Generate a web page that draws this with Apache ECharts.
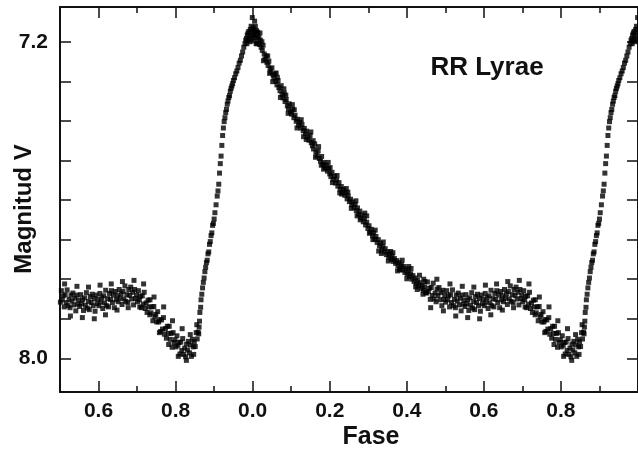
<!DOCTYPE html>
<html><head><meta charset="utf-8">
<script src="https://cdn.jsdelivr.net/npm/echarts@6/dist/echarts.min.js"></script>
<style>html,body{margin:0;padding:0;background:#fff}#c{width:638px;height:455px}</style>
</head><body><div id="c"></div>
<script>
// ---- tick positions / labels ----
const xMajorTicks = [-0.4, -0.2, 0, 0.2, 0.4, 0.6, 0.8];
const xTickLabels = ['0.6', '0.8', '0.0', '0.2', '0.4', '0.6', '0.8'];
const xMinorTicks = [-0.3, -0.1, 0.1, 0.3, 0.5, 0.7, 0.9];
const yTicks = [7.2, 7.3, 7.4, 7.5, 7.6, 7.7, 7.8, 7.9, 8.0];
const yLabelValues = [7.2, 8.0];
const yLabelTexts = ['7.2', '8.0'];

const peakObs = [[0.985,7.205],[0.989,7.196],[0.993,7.200],[0.997,7.192],[0.002,7.198],[0.004,7.170],[0.007,7.161],[0.009,7.205],[0.001,7.185],[0.013,7.176]];
const declineObs = [[0.001,7.165],[0.003,7.182],[0.005,7.148],[0.006,7.176],[0.008,7.190],[0.010,7.172],[0.012,7.186],[0.014,7.201],[0.016,7.189],[0.018,7.207],[0.020,7.196],[0.022,7.214],[0.025,7.222],[0.027,7.209],[0.030,7.231],[0.032,7.244],[0.035,7.236],[0.037,7.252],[0.040,7.260],[0.042,7.249],[0.045,7.268],[0.047,7.277],[0.050,7.266],[0.053,7.284],[0.055,7.292],[0.058,7.281],[0.060,7.300],[0.063,7.309],[0.066,7.298],[0.068,7.316],[0.071,7.324],[0.074,7.311],[0.076,7.333],[0.079,7.342],[0.082,7.330],[0.084,7.351],[0.087,7.346],[0.090,7.362],[0.093,7.370],[0.095,7.357],[0.098,7.378],[0.101,7.383],[0.104,7.371],[0.107,7.392],[0.110,7.386],[0.113,7.401],[0.116,7.396],[0.119,7.411],[0.122,7.404],[0.125,7.418],[0.128,7.409],[0.131,7.425],[0.134,7.419],[0.137,7.433],[0.140,7.426],[0.143,7.441],[0.146,7.449],[0.149,7.437],[0.152,7.455],[0.155,7.463],[0.158,7.471],[0.161,7.458],[0.164,7.479],[0.167,7.488],[0.170,7.476],[0.173,7.495],[0.176,7.502],[0.179,7.490],[0.182,7.510],[0.185,7.505],[0.188,7.519],[0.191,7.512],[0.194,7.527],[0.197,7.520],[0.200,7.534],[0.203,7.541],[0.206,7.530],[0.209,7.548],[0.212,7.540],[0.215,7.557],[0.218,7.550],[0.221,7.565],[0.224,7.556],[0.227,7.573],[0.230,7.566],[0.233,7.580],[0.236,7.573],[0.239,7.588],[0.242,7.582],[0.245,7.597],[0.248,7.590],[0.251,7.604],[0.254,7.598],[0.257,7.612],[0.260,7.605],[0.263,7.619],[0.266,7.611],[0.269,7.627],[0.272,7.620],[0.275,7.636],[0.278,7.628],[0.281,7.645],[0.284,7.638],[0.287,7.655],[0.290,7.647],[0.293,7.663],[0.296,7.656],[0.299,7.672],[0.302,7.665],[0.305,7.681],[0.308,7.674],[0.311,7.690],[0.314,7.683],[0.317,7.699],[0.320,7.692],[0.323,7.707],[0.326,7.700],[0.329,7.716],[0.332,7.709],[0.335,7.724],[0.338,7.717],[0.341,7.731],[0.344,7.723],[0.347,7.738],[0.350,7.731],[0.353,7.744],[0.356,7.737],[0.359,7.750],[0.362,7.742],[0.365,7.755],[0.368,7.748],[0.371,7.760],[0.374,7.753],[0.377,7.766],[0.380,7.758],[0.383,7.772],[0.386,7.763],[0.389,7.777],[0.392,7.768],[0.395,7.783],[0.398,7.774],[0.401,7.788],[0.404,7.780],[0.407,7.794],[0.410,7.786],[0.413,7.800],[0.416,7.791],[0.419,7.806],[0.422,7.797],[0.425,7.812],[0.428,7.803],[0.431,7.817],[0.434,7.809],[0.437,7.823],[0.440,7.815],[0.443,7.828],[0.446,7.820],[0.449,7.834],
[0.011,7.205],[0.019,7.178],[0.028,7.248],[0.039,7.236],[0.052,7.301],[0.061,7.279],[0.072,7.341],[0.081,7.319],[0.092,7.381],[0.103,7.359],[0.115,7.418],[0.126,7.397],[0.139,7.447],[0.151,7.428],[0.163,7.492],[0.171,7.465],[0.184,7.522],[0.196,7.505],[0.207,7.556],[0.219,7.538],[0.231,7.585],[0.243,7.571],[0.256,7.621],[0.268,7.602],[0.279,7.650],[0.291,7.633],[0.303,7.684],[0.318,7.676],[0.327,7.729],[0.339,7.706],[0.352,7.754],[0.364,7.733],[0.376,7.779],[0.388,7.752],[0.400,7.799],[0.411,7.773],[0.423,7.819],[0.433,7.790],[0.442,7.838],[0.447,7.806],
[0.024,7.200],[0.044,7.280],[0.064,7.290],[0.086,7.335],[0.108,7.372],[0.132,7.440],[0.157,7.450],[0.178,7.512],[0.201,7.518],[0.226,7.582],[0.247,7.580],[0.271,7.640],[0.296,7.640],[0.312,7.700],[0.334,7.735],[0.358,7.730],[0.381,7.776],[0.405,7.768],[0.427,7.826],[0.444,7.800]];
const plateauObs = [[0.451,7.835],[0.4535,7.807],[0.456,7.831],[0.4585,7.823],[0.461,7.851],[0.4635,7.821],[0.466,7.841],[0.4685,7.810],[0.471,7.850],[0.4735,7.835],[0.476,7.857],[0.4785,7.825],[0.481,7.841],[0.4835,7.821],[0.486,7.852],[0.4885,7.834],[0.491,7.867],[0.4935,7.828],[0.496,7.851],[0.4985,7.841],[0.501,7.858],[0.5035,7.829],[0.506,7.852],[0.5085,7.842],[0.511,7.870],[0.5135,7.839],[0.516,7.859],[0.5185,7.827],[0.521,7.867],[0.5235,7.851],[0.526,7.872],[0.5285,7.840],[0.531,7.855],[0.5335,7.835],[0.536,7.865],[0.5385,7.848],[0.541,7.880],[0.5435,7.840],[0.546,7.863],[0.5485,7.853],[0.551,7.869],[0.5535,7.839],[0.556,7.862],[0.5585,7.852],[0.561,7.879],[0.5635,7.847],[0.566,7.866],[0.5685,7.834],[0.571,7.873],[0.5735,7.856],[0.576,7.877],[0.5785,7.844],[0.581,7.859],[0.5835,7.838],[0.586,7.867],[0.5885,7.849],[0.591,7.881],[0.5935,7.840],[0.596,7.862],[0.5985,7.851],[0.601,7.867],[0.6035,7.836],[0.606,7.858],[0.6085,7.847],[0.611,7.874],[0.6135,7.842],[0.616,7.860],[0.6185,7.828],[0.621,7.867],[0.6235,7.849],[0.626,7.870],[0.6285,7.836],[0.631,7.851],[0.6335,7.829],[0.636,7.859],[0.6385,7.840],[0.641,7.872],[0.6435,7.831],[0.646,7.852],[0.6485,7.842],[0.651,7.857],[0.6535,7.826],[0.656,7.848],[0.6585,7.837],[0.661,7.864],[0.6635,7.831],[0.666,7.850],[0.6685,7.817],[0.671,7.856],[0.6735,7.839],[0.676,7.859],[0.6785,7.826],[0.681,7.841],[0.6835,7.820],[0.686,7.850],[0.6885,7.833],[0.691,7.865],[0.6935,7.826],[0.696,7.849],[0.6985,7.840],[0.701,7.857],[0.7035,7.829],[0.706,7.852],[0.7085,7.843],[0.711,7.872],[0.7135,7.842],[0.716,7.863],[0.7185,7.833],[0.721,7.874],[0.7235,7.860],[0.726,7.884],[0.7285,7.853],[0.731,7.870],[0.7335,7.852],[0.736,7.885],[0.7385,7.870],[0.741,7.905],[0.7435,7.869],[0.746,7.895],[0.7485,7.889],[0.751,7.908],[0.7535,7.882],[0.756,7.908],[0.7585,7.902],[0.761,7.932],[0.7635,7.903],[0.766,7.926],[0.7685,7.897],[0.771,7.939],[0.7735,7.925],[0.776,7.949],[0.7785,7.919],[0.781,7.937],[0.7835,7.919],[0.786,7.952],[0.7885,7.937],[0.791,7.972],[0.7935,7.935],[0.796,7.960],[0.7985,7.953],[0.801,7.971],[0.8035,7.943],[0.806,7.967],[0.8085,7.960],[0.811,7.989],[0.8135,7.959],[0.816,7.980],[0.8185,7.950],[0.821,7.990],[0.8235,7.974],[0.826,7.996],[0.8285,7.964],[0.831,7.979],[0.8335,7.957],[0.836,7.986],[0.8385,7.966],[0.841,7.995],[0.8435,7.952],[0.846,7.971],[0.8485,7.958],[0.851,7.970],[0.8535,7.935],[0.856,7.951],[0.8585,7.934],
[0.462,7.872],[0.478,7.800],[0.495,7.880],[0.512,7.812],[0.527,7.893],[0.544,7.818],[0.558,7.897],[0.574,7.820],[0.589,7.900],[0.604,7.815],[0.618,7.890],[0.633,7.812],[0.648,7.878],[0.662,7.806],[0.677,7.872],[0.692,7.803],[0.707,7.870],[0.717,7.812],[0.733,7.890],[0.744,7.845],[0.758,7.935],[0.769,7.870],[0.782,7.965],[0.792,7.905],[0.807,7.995],[0.817,7.925],[0.828,8.005],[0.838,7.940],[0.847,7.990],[0.855,7.915]];
const riseObs = [[0.860,7.938],[0.861,7.921],[0.862,7.906],[0.863,7.884],[0.865,7.871],[0.866,7.852],[0.868,7.838],[0.870,7.822],[0.872,7.808],[0.874,7.797],[0.876,7.781],[0.878,7.770],[0.880,7.758],[0.882,7.752],[0.884,7.736],[0.886,7.731],[0.888,7.712],[0.890,7.705],[0.892,7.690],[0.894,7.683],[0.896,7.664],[0.898,7.659],[0.900,7.648],[0.902,7.632],[0.905,7.612],[0.908,7.590],[0.910,7.577],[0.912,7.560],[0.914,7.532],[0.916,7.508],[0.918,7.489],[0.920,7.462],[0.922,7.437],[0.924,7.418],[0.926,7.402],[0.928,7.392],[0.930,7.379],[0.932,7.371],[0.934,7.358],[0.936,7.350],[0.938,7.341],[0.940,7.336],[0.942,7.325],[0.944,7.318],[0.946,7.312],[0.948,7.306],[0.950,7.298],[0.953,7.291],[0.956,7.281],[0.959,7.274],[0.962,7.265],[0.965,7.254],[0.968,7.247],[0.971,7.236],[0.974,7.226],[0.977,7.214],[0.980,7.205],[0.982,7.196],[0.984,7.192],[0.986,7.183],[0.988,7.178],[0.990,7.174],[0.992,7.186],[0.994,7.169],[0.996,7.161],[0.998,7.177],[0.999,7.139]];

// one cycle, plotted again one phase earlier for the left half (phase-folded display)
const cycle = [].concat(peakObs, declineObs, plateauObs, riseObs);
const plotted = cycle.map(d => [d[0], d[1]])
  .concat(cycle.filter(d => d[0] >= 0.5).map(d => [d[0] - 1, d[1]]));

const FONT = '"Liberation Sans", Arial, Helvetica, sans-serif';
const INK = '#111';

function xLabel(v) {
  for (let i = 0; i < xMajorTicks.length; i++) {
    if (Math.abs(xMajorTicks[i] - v) < 1e-6) return xTickLabels[i];
  }
  return '';
}
function yLabel(v) {
  for (let i = 0; i < yLabelValues.length; i++) {
    if (Math.abs(yLabelValues[i] - v) < 1e-6) return yLabelTexts[i];
  }
  return '';
}

function xAx(position, ticks, len, withLine, withLabels) {
  return {
    type: 'value', min: -0.5, max: 1.0, position: position,
    axisLine: { show: withLine, onZero: false, lineStyle: { color: INK, width: 2 } },
    axisTick: { show: true, inside: true, length: len, customValues: ticks, lineStyle: { color: INK, width: 1.5 } },
    axisLabel: withLabels ? { show: true, customValues: xMajorTicks, formatter: xLabel, margin: 9,
      fontSize: 21, fontWeight: 'bold', color: INK, fontFamily: FONT } : { show: false },
    splitLine: { show: false }
  };
}
function yAx(position, withLabels) {
  return {
    type: 'value', min: 7.1123, max: 8.085, inverse: true, position: position,
    axisLine: { show: true, onZero: false, lineStyle: { color: INK, width: 2 } },
    axisTick: { show: true, inside: true, length: 11, customValues: yTicks, lineStyle: { color: INK, width: 1.5 } },
    axisLabel: withLabels ? { show: true, customValues: yLabelValues, formatter: yLabel, margin: 12,
      fontSize: 21, fontWeight: 'bold', color: INK, fontFamily: FONT } : { show: false },
    splitLine: { show: false }
  };
}

const chart = echarts.init(document.getElementById('c'), null, { renderer: 'canvas' });
chart.setOption({
  animation: false,
  backgroundColor: '#fff',
  grid: { left: 60, top: 7, width: 580, height: 385, containLabel: false },
  xAxis: [
    xAx('bottom', xMajorTicks, 11, true, true),
    xAx('bottom', xMinorTicks, 6, false, false),
    xAx('top', xMajorTicks, 11, true, false),
    xAx('top', xMinorTicks, 6, false, false)
  ],
  yAxis: [yAx('left', true), yAx('right', false)],
  graphic: [
    { type: 'text', x: 487, y: 68, style: { text: 'RR Lyrae', font: 'bold 26px ' + FONT, fill: INK, align: 'center', verticalAlign: 'middle' } },
    { type: 'text', x: 371, y: 437, style: { text: 'Fase', font: 'bold 25px ' + FONT, fill: INK, align: 'center', verticalAlign: 'middle' } },
    { type: 'text', x: 24, y: 209, rotation: Math.PI / 2, style: { text: 'Magnitud V', font: 'bold 24px ' + FONT, fill: INK, align: 'center', verticalAlign: 'middle' } }
  ],
  series: [{
    type: 'scatter', xAxisIndex: 0, yAxisIndex: 0,
    symbol: 'rect', symbolSize: 5,
    itemStyle: { color: '#000' },
    data: plotted
  }]
});
</script>
</body></html>
